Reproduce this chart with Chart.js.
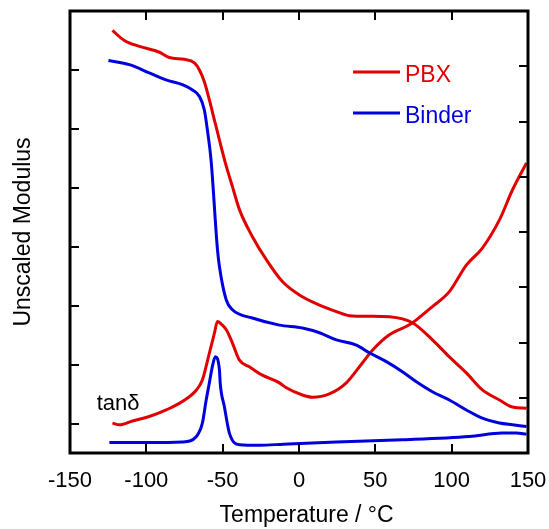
<!DOCTYPE html>
<html>
<head>
<meta charset="utf-8">
<script src="https://cdn.jsdelivr.net/npm/chart.js@4.4.1/dist/chart.umd.min.js"></script>
<style>
  html, body { margin: 0; padding: 0; background: #fff; }
  #wrap { width: 549px; height: 529px; }
</style>
</head>
<body>
<div id="wrap"><canvas id="dmaChart"></canvas></div>
<script>
// temperature sweep, degC
var tempTicks = [-150, -100, -50, 0, 50, 100, 150];
var modulusTicks = [0.5, 1.5, 2.5, 3.5, 4.5, 5.5, 6.5];
var tanTicks = [1, 2, 3, 4, 5, 6, 7];

// storage modulus (arbitrary units, left axis)
var pbxModT = [-122.2, -114.4, -104.5, -91.4, -84.9, -75.1, -68.5, -65.2, -62.0, -58.7, -55.4, -52.1, -48.2, -43.6, -39.0, -30.5, -21.4, -10.9, 2.2, 13.4, 24.5, 33.0, 46.1, 59.2, 74.3, 87.4, 98.5, 109.6, 120.1, 131.3, 139.8, 149.0];
var pbxMod = [7.17, 7.00, 6.90, 6.80, 6.71, 6.68, 6.62, 6.50, 6.30, 5.99, 5.65, 5.31, 4.92, 4.52, 4.13, 3.67, 3.28, 2.91, 2.65, 2.51, 2.40, 2.33, 2.32, 2.31, 2.21, 1.92, 1.63, 1.36, 1.07, 0.90, 0.78, 0.76];

var binderModT = [-124.8, -111.1, -98.1, -87.1, -76.4, -69.8, -65.2, -62.0, -60.0, -57.6, -53.4, -52.1, -47.7, -43.6, -30.5, -12.8, 2.2, 13.4, 24.5, 37.6, 46.1, 57.2, 67.7, 76.9, 87.4, 98.5, 109.6, 120.1, 131.3, 139.8, 149.0];
var binderMod = [6.66, 6.59, 6.45, 6.33, 6.25, 6.16, 6.05, 5.82, 5.48, 4.97, 3.45, 3.16, 2.60, 2.43, 2.29, 2.17, 2.12, 2.04, 1.92, 1.83, 1.70, 1.55, 1.38, 1.21, 1.04, 0.90, 0.73, 0.59, 0.51, 0.48, 0.45];

// loss tangent (right axis)
var pbxTanT = [-122.2, -117.6, -109.1, -98.1, -87.0, -76.4, -67.2, -63.3, -58.7, -55.4, -53.4, -50.8, -47.6, -43.6, -39.0, -32.5, -24.0, -12.8, -8.3, 2.2, 8.8, 19.9, 31.0, 41.5, 48.1, 59.2, 72.3, 76.9, 87.4, 98.5, 109.6, 120.1, 131.3, 139.8, 149.0];
var pbxTan = [0.54, 0.51, 0.58, 0.66, 0.78, 0.93, 1.14, 1.32, 1.81, 2.17, 2.38, 2.33, 2.23, 1.99, 1.68, 1.56, 1.41, 1.27, 1.18, 1.05, 1.01, 1.07, 1.27, 1.63, 1.86, 2.14, 2.32, 2.41, 2.65, 2.92, 3.40, 3.71, 4.22, 4.76, 5.25];

var binderTanT = [-124.2, -98.1, -76.4, -67.2, -63.3, -60.8, -58.7, -56.8, -54.8, -52.1, -51.6, -48.9, -45.6, -39.0, -25.9, -10.0, 24.5, 67.7, 111.6, 133.2, 142.4, 149.0];
var binderTan = [0.19, 0.19, 0.20, 0.30, 0.54, 0.96, 1.27, 1.56, 1.74, 1.50, 1.26, 0.84, 0.36, 0.15, 0.14, 0.16, 0.20, 0.24, 0.30, 0.36, 0.36, 0.34];

var RED = '#e00000';
var BLUE = '#0000dd';
var FONT = '"Liberation Sans", Arial, sans-serif';

function pts(xs, ys) {
    return xs.map(function (x, i) { return { x: x, y: ys[i] }; });
}

function series(label, xs, ys, color, axis) {
    return {
        label: label,
        data: pts(xs, ys),
        borderColor: color,
        backgroundColor: color,
        borderWidth: 3,
        pointRadius: 0,
        cubicInterpolationMode: 'monotone',
        yAxisID: axis
    };
}

// frame with inward tick marks on all four sides, plus key, tan(delta) label and x title
var framePlugin = {
    id: 'frame',
    afterDraw: function (chart) {
        var ctx = chart.ctx, a = chart.chartArea, s = chart.scales;
        var len = 9;
        ctx.save();
        ctx.strokeStyle = '#000';
        ctx.lineWidth = 2;
        ctx.beginPath();
        s.x.ticks.forEach(function (t) {
            if (t.value <= s.x.min || t.value >= s.x.max) return;
            var px = Math.round(s.x.getPixelForValue(t.value));
            ctx.moveTo(px, a.bottom); ctx.lineTo(px, a.bottom - len);
            ctx.moveTo(px, a.top); ctx.lineTo(px, a.top + len);
        });
        s.y.ticks.forEach(function (t) {
            var py = Math.round(s.y.getPixelForValue(t.value));
            ctx.moveTo(a.left, py); ctx.lineTo(a.left + len, py);
        });
        s.y2.ticks.forEach(function (t) {
            if (t.value <= s.y2.min || t.value >= s.y2.max) return;
            var py = Math.round(s.y2.getPixelForValue(t.value));
            ctx.moveTo(a.right, py); ctx.lineTo(a.right - len, py);
        });
        ctx.stroke();

        ctx.lineWidth = 3;
        ctx.strokeRect(a.left, a.top, a.right - a.left, a.bottom - a.top);

        // key
        var keys = [[chart.data.datasets[0], 72], [chart.data.datasets[1], 113]];
        ctx.font = '23px ' + FONT;
        ctx.textBaseline = 'alphabetic';
        ctx.textAlign = 'left';
        keys.forEach(function (k) {
            var ds = k[0], y = k[1];
            ctx.strokeStyle = ds.borderColor;
            ctx.lineWidth = 3;
            ctx.beginPath();
            ctx.moveTo(353, y); ctx.lineTo(400, y);
            ctx.stroke();
            ctx.fillStyle = ds.borderColor;
            ctx.fillText(ds.label, 405, y + 10);
        });

        ctx.fillStyle = '#000';
        ctx.font = '22px ' + FONT;
        ctx.fillText('tan\u03b4', s.x.getPixelForValue(-132.5), 410);

        ctx.font = '23px ' + FONT;
        ctx.textAlign = 'center';
        ctx.fillText('Temperature / \u00b0C', s.x.getPixelForValue(5), 522);
        ctx.restore();
    }
};

var ctx = document.getElementById('dmaChart').getContext('2d');
var dmaChart = new Chart(ctx, {
    type: 'line',
    data: {
        datasets: [
            series('PBX', pbxModT, pbxMod, RED, 'y'),
            series('Binder', binderModT, binderMod, BLUE, 'y'),
            series('PBX tan\u03b4', pbxTanT, pbxTan, RED, 'y2'),
            series('Binder tan\u03b4', binderTanT, binderTan, BLUE, 'y2')
        ]
    },
    options: {
        responsive: true,
        maintainAspectRatio: false,
        animation: false,
        layout: { padding: { top: 11, left: 0, right: 0, bottom: 0 } },
        plugins: {
            legend: { display: false },
            tooltip: { enabled: false }
        },
        scales: {
            x: {
                type: 'linear',
                min: -150,
                max: 150,
                afterBuildTicks: function (scale) {
                    scale.ticks = tempTicks.map(function (v) { return { value: v }; });
                },
                afterFit: function (scale) {
                    scale.height = 76;
                    scale.paddingLeft = 0;
                    scale.paddingRight = 0;
                },
                grid: { display: false, drawTicks: false },
                border: { display: false },
                ticks: {
                    color: '#000',
                    padding: 15,
                    maxRotation: 0,
                    font: { family: FONT, size: 22 }
                }
            },
            y: {
                position: 'left',
                min: 0,
                max: 7.5,
                afterBuildTicks: function (scale) {
                    scale.ticks = modulusTicks.map(function (v) { return { value: v }; });
                },
                afterFit: function (scale) { scale.width = 70; },
                grid: { display: false, drawTicks: false },
                border: { display: false },
                ticks: { display: false },
                title: {
                    display: true,
                    text: 'Unscaled Modulus',
                    color: '#000',
                    padding: { top: 10, bottom: 0 },
                    font: { family: FONT, size: 23 }
                }
            },
            y2: {
                position: 'right',
                min: 0,
                max: 8,
                afterBuildTicks: function (scale) {
                    scale.ticks = tanTicks.map(function (v) { return { value: v }; });
                },
                afterFit: function (scale) { scale.width = 21; },
                grid: { display: false, drawTicks: false },
                border: { display: false },
                ticks: { display: false }
            }
        }
    },
    plugins: [framePlugin]
});
</script>
</body>
</html>
